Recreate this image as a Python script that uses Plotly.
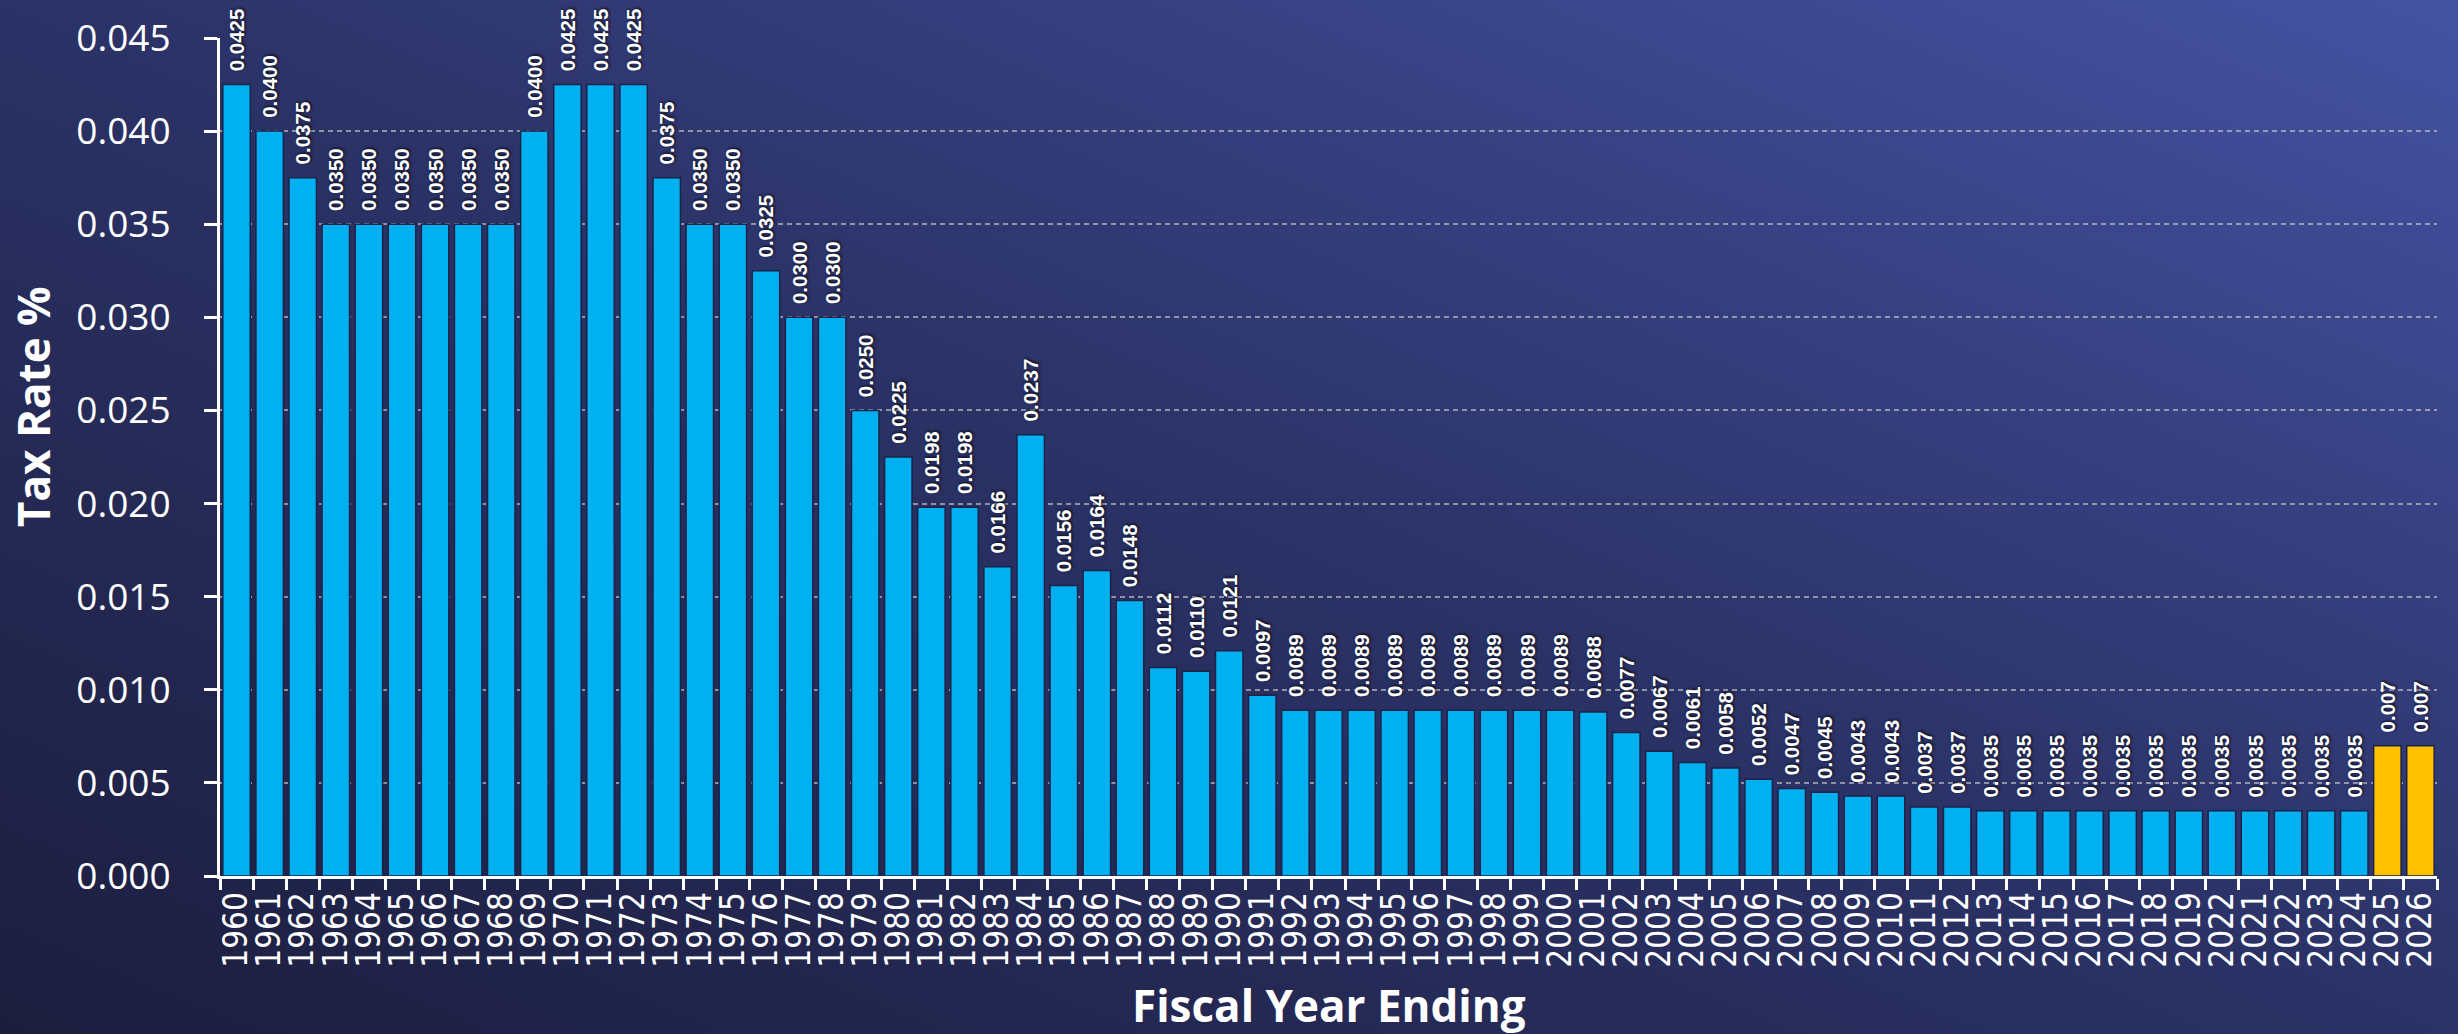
import base64
import plotly.graph_objects as go

# ---------------- data ----------------
years = ["1960", "1961", "1962", "1963", "1964", "1965", "1966", "1967", "1968", "1969",
         "1970", "1971", "1972", "1973", "1974", "1975", "1976", "1977", "1978", "1979",
         "1980", "1981", "1982", "1983", "1984", "1985", "1986", "1987", "1988", "1989",
         "1990", "1991", "1992", "1993", "1994", "1995", "1996", "1997", "1998", "1999",
         "2000", "2001", "2002", "2003", "2004", "2005", "2006", "2007", "2008", "2009",
         "2010", "2011", "2012", "2013", "2014", "2015", "2016", "2017", "2018", "2019",
         "2022", "2021", "2022", "2023", "2024", "2025", "2026"]

tax_rate = [0.0425, 0.0400, 0.0375, 0.0350, 0.0350, 0.0350, 0.0350, 0.0350, 0.0350, 0.0400,
            0.0425, 0.0425, 0.0425, 0.0375, 0.0350, 0.0350, 0.0325, 0.0300, 0.0300, 0.0250,
            0.0225, 0.0198, 0.0198, 0.0166, 0.0237, 0.0156, 0.0164, 0.0148, 0.0112, 0.0110,
            0.0121, 0.0097, 0.0089, 0.0089, 0.0089, 0.0089, 0.0089, 0.0089, 0.0089, 0.0089,
            0.0089, 0.0088, 0.0077, 0.0067, 0.0061, 0.0058, 0.0052, 0.0047, 0.0045, 0.0043,
            0.0043, 0.0037, 0.0037, 0.0035, 0.0035, 0.0035, 0.0035, 0.0035, 0.0035, 0.0035,
            0.0035, 0.0035, 0.0035, 0.0035, 0.0035, 0.007, 0.007]

projected = [False] * 65 + [True, True]

y_ticks = [0.000, 0.005, 0.010, 0.015, 0.020, 0.025, 0.030, 0.035, 0.040, 0.045]

# ---------------- styling ----------------
W, H = 2458, 1034
M = dict(l=220, r=21, t=38, b=158)
PW = W - M["l"] - M["r"]
PH = H - M["t"] - M["b"]

BLUE = "#00B0F0"
GOLD = "#FFC000"

# unique category keys (the axis shows a repeated "2022" label)
seen = {}
cats = []
for y in years:
    n = seen.get(y, 0)
    cats.append(y + "\u200b" * n)
    seen[y] = n + 1

labels = [f"{v:.3f}" if p else f"{v:.4f}" for v, p in zip(tax_rate, projected)]
colors = [GOLD if p else BLUE for p in projected]

fig = go.Figure()
fig.add_trace(go.Bar(
    x=cats, y=tax_rate,
    marker=dict(color=colors, line=dict(color="#1b2348", width=1.5)),
    text=labels,
    texttemplate="\u2002%{text}",
    textposition="outside",
    textangle=-90,
    constraintext="none",
    cliponaxis=False,
    textfont=dict(family="Liberation Sans, Arial", size=20.5, color="white",
                  weight="bold", shadow="1px 1px 3px rgba(0,0,0,0.85)"),
    hoverinfo="x+y",
))

svg = (
    f'<svg xmlns="http://www.w3.org/2000/svg" width="{W}" height="{H}" '
    f'viewBox="0 0 {W} {H}" preserveAspectRatio="none">'
    '<defs><linearGradient id="g" x1="0" y1="1" x2="1" y2="0">'
    '<stop offset="0" stop-color="#1c1e3e"/>'
    '<stop offset="0.5" stop-color="#2b3266"/>'
    '<stop offset="1" stop-color="#4452a2"/>'
    '</linearGradient></defs>'
    f'<rect width="{W}" height="{H}" fill="url(#g)"/></svg>'
)
src = "data:image/svg+xml;base64," + base64.b64encode(svg.encode()).decode()

fig.update_layout(
    width=W, height=H,
    margin=M,
    paper_bgcolor="#2a3063",
    plot_bgcolor="rgba(0,0,0,0)",
    showlegend=False,
    bargap=0.17,
    images=[dict(source=src, xref="paper", yref="paper",
                 x=-M["l"] / PW, y=1 + M["t"] / PH,
                 sizex=W / PW, sizey=H / PH,
                 xanchor="left", yanchor="top",
                 sizing="stretch", layer="below")],
    xaxis=dict(
        type="category",
        automargin=False,
        tickmode="linear", tick0=0, dtick=1,
        tickangle=-90,
        tickson="boundaries",
        ticks="outside", ticklen=11, tickwidth=3, tickcolor="white",
        showline=True, linecolor="white", linewidth=3,
        showgrid=False,
        tickfont=dict(family="DejaVu Sans Condensed, DejaVu Sans", size=33, color="white"),
        ticklabelstandoff=0,
    ),
    yaxis=dict(
        automargin=False,
        range=[0, 0.045],
        tickvals=y_ticks,
        tickformat=".3f",
        ticks="outside", ticklen=13, tickwidth=3, tickcolor="white",
        showline=True, linecolor="white", linewidth=3,
        showgrid=True, gridcolor="rgba(200,200,200,0.65)", gridwidth=1.5,
        griddash="5px,4px",
        zeroline=False,
        tickfont=dict(family="Open Sans", size=37, color="white"),
        ticklabelstandoff=26,
    ),
    annotations=[
        dict(text="<b>Tax Rate %</b>", xref="paper", yref="paper",
             x=(33 - M["l"]) / PW, y=(M["t"] + PH - 407) / PH,
             xanchor="center", yanchor="middle", textangle=-90, showarrow=False,
             font=dict(family="Open Sans", size=44, color="white")),
        dict(text="<b>Fiscal Year Ending</b>", xref="paper", yref="paper",
             x=0.5, y=(M["t"] + PH - 1005) / PH,
             xanchor="center", yanchor="middle", showarrow=False,
             font=dict(family="Open Sans", size=44, color="white")),
    ],
)

fig.write_html("out.html",
               config={"displayModeBar": False},
               post_script="document.body.style.margin='0';document.body.style.overflow='hidden';")
